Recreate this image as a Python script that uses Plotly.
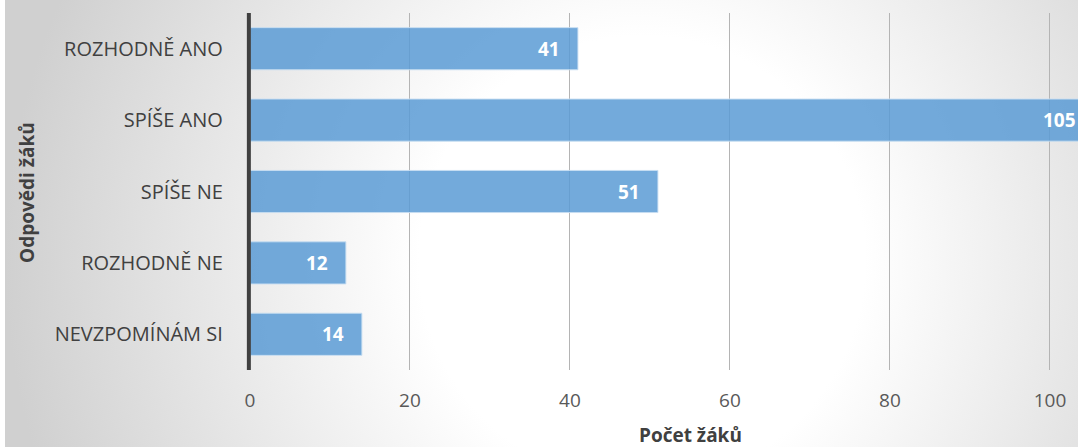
import base64
import plotly.graph_objects as go

categories = ["ROZHODNĚ ANO", "SPÍŠE ANO", "SPÍŠE NE", "ROZHODNĚ NE", "NEVZPOMÍNÁM SI"]
values = [41, 105, 51, 12, 14]
x_ticks = [0, 20, 40, 60, 80, 100]
x_max = 103.5

W, H = 1078, 447
FONT = "Open Sans"
PLOT_TOP, PLOT_BOTTOM = 13, 370

svg = f'''<svg xmlns="http://www.w3.org/2000/svg" width="{W}" height="{H}" viewBox="0 0 {W} {H}">
<defs><radialGradient id="g" gradientUnits="userSpaceOnUse" cx="640" cy="260" r="640">
<stop offset="0" stop-color="#ffffff"/><stop offset="0.35" stop-color="#ffffff"/>
<stop offset="1" stop-color="#d0d0d0"/></radialGradient></defs>
<rect x="0" y="0" width="{W}" height="{H}" fill="url(#g)"/></svg>'''
bg_uri = "data:image/svg+xml;base64," + base64.b64encode(svg.encode()).decode()

fig = go.Figure()
fig.add_trace(go.Bar(
    x=values, y=categories, orientation="h",
    marker=dict(color="rgba(91,155,213,0.85)", line=dict(color="rgba(200,222,242,0.9)", width=1)),
    hoverinfo="skip",
))

annotations = []
for c, v in zip(categories, values):
    inside = v <= x_max
    annotations.append(dict(x=min(v, x_max), y=c, xref="x", yref="y", text=str(v), showarrow=False,
                            xanchor="right", yanchor="middle", xshift=-16 if inside else 0,
                            font=dict(family=FONT, size=19, color="white", weight="bold")))
annotations.append(dict(x=22 / W, y=(H - 192) / H, xref="paper", yref="paper",
                        text="Odpovědi žáků", textangle=-90, showarrow=False,
                        xanchor="center", yanchor="middle",
                        font=dict(family=FONT, size=19, color="#404040", weight="bold")))
annotations.append(dict(x=689 / W, y=(H - 435) / H, xref="paper", yref="paper",
                        text="Počet žáků", showarrow=False,
                        xanchor="center", yanchor="middle",
                        font=dict(family=FONT, size=19, color="#404040", weight="bold")))

fig.update_layout(
    width=W, height=H,
    margin=dict(l=0, r=0, t=0, b=0),
    paper_bgcolor="white", plot_bgcolor="rgba(0,0,0,0)",
    showlegend=False,
    bargap=0.41,
    images=[dict(source=bg_uri, xref="paper", yref="paper", x=0, y=1, sizex=1, sizey=1,
                 sizing="stretch", layer="below", xanchor="left", yanchor="top")],
    shapes=[dict(type="line", xref="paper", yref="paper",
                 x0=245 / W, x1=245 / W, y0=(H - PLOT_BOTTOM) / H, y1=(H - PLOT_TOP) / H,
                 line=dict(color="#404040", width=4), layer="above")],
    annotations=annotations,
    xaxis=dict(domain=[246 / W, 1], range=[0, x_max], tickvals=x_ticks,
               showgrid=True, gridcolor="#b4b4b4", gridwidth=1, zeroline=False,
               showline=False, ticks="", ticklabelstandoff=17,
               tickfont=dict(family=FONT, size=19, color="#595959"), fixedrange=True),
    yaxis=dict(domain=[(H - PLOT_BOTTOM) / H, (H - PLOT_TOP) / H], categoryorder="array",
               categoryarray=categories, autorange="reversed",
               showgrid=False, zeroline=False, showline=False,
               ticks="", ticklabelstandoff=26,
               tickfont=dict(family=FONT, size=20, color="#404040"), fixedrange=True),
)

fig.write_html("out.html")
